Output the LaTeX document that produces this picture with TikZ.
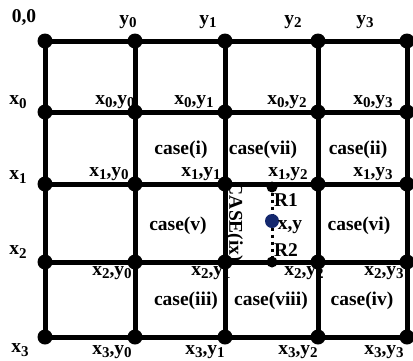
\documentclass[tikz,border=0pt]{standalone}
\usepackage{fontspec}
\setmainfont{Liberation Serif}
\begin{document}
\begin{tikzpicture}[x=1pt,y=-1pt,
  lbl/.style={font=\fontsize{19.5}{21}\selectfont\bfseries, inner sep=0pt},
  grid/.style={line width=5pt},
  knot/.style={circle, fill=black, minimum size=15pt, inner sep=0pt},
  probe/.style={circle, fill=black, minimum size=11pt, inner sep=0pt}]
\useasboundingbox (0,0) rectangle (413,360);
\newcommand\sbs[1]{\raisebox{-3.5pt}{\fontsize{15}{15}\selectfont #1}}
\newcommand\xy[2]{x\sbs{#1},y\sbs{#2}}
% axis labels
\node[lbl] (o)  at (24,18)  {0,0};
\node[lbl] (ty0) at (128,22) {y\sbs{0}};
\node[lbl] (ty1) at (208,22) {y\sbs{1}};
\node[lbl] (ty2) at (293,22) {y\sbs{2}};
\node[lbl] (ty3) at (365,22) {y\sbs{3}};
\node[lbl] (lx0) at (18,102) {x\sbs{0}};
\node[lbl] (lx1) at (18,177) {x\sbs{1}};
\node[lbl] (lx2) at (18,252) {x\sbs{2}};
\node[lbl] (lx3) at (20,350) {x\sbs{3}};
% point labels
\node[lbl] (p00) at (115,102) {\xy00};
\node[lbl] (p01) at (194,102) {\xy01};
\node[lbl] (p02) at (287,102) {\xy02};
\node[lbl] (p03) at (373,102) {\xy03};
\node[lbl] (p10) at (109,174) {\xy10};
\node[lbl] (p11) at (201,174) {\xy11};
\node[lbl] (p12) at (288,174) {\xy12};
\node[lbl] (p13) at (373,174) {\xy13};
\node[lbl] (p20) at (112,273) {\xy20};
\node[lbl] (p21) at (211,273) {\xy21};
\node[lbl] (p22) at (304,273) {\xy22};
\node[lbl] (p23) at (384,273) {\xy23};
\node[lbl] (p30) at (112,352) {\xy30};
\node[lbl] (p31) at (205,352) {\xy31};
\node[lbl] (p32) at (298,352) {\xy32};
\node[lbl] (p33) at (384,352) {\xy33};
% case labels
\node[lbl] (ci)    at (181,150) {case(i)};
\node[lbl] (cvii)  at (263,150) {case(vii)};
\node[lbl] (cii)   at (358,150) {case(ii)};
\node[lbl] (cv)    at (178,226) {case(v)};
\node[lbl] (cvi)   at (359,226) {case(vi)};
\node[lbl] (ciii)  at (186,301) {case(iii)};
\node[lbl] (cviii) at (271,301) {case(viii)};
\node[lbl] (civ)   at (362,301) {case(iv)};
\node[lbl, rotate=-90] (cix) at (234,222) {CASE(ix)};
% grid
\foreach \r/\yy in {0/41,1/112,2/184,3/262,4/337}{
  \foreach \c/\xx in {0/45,1/135,2/225,3/318,4/407}{
    \coordinate (g\r\c) at (\xx,\yy);
  }
}
\foreach \r in {0,...,4}{\draw[grid] (g\r0) -- (g\r4);}
\foreach \c in {0,...,4}{\draw[grid] (g0\c) -- (g4\c);}
\foreach \r in {0,...,4}{\foreach \c in {0,...,4}{\node[knot] at (g\r\c) {};}}
% interpolation point between two grid rows
\node[probe] (r1) at (272,187) {};
\node[probe] (r2) at (272,262) {};
\draw[line width=3pt, dash pattern=on 3pt off 4pt] (r1) -- (r2);
\node[circle, fill={rgb,255:red,20;green,40;blue,110}, minimum size=14pt, inner sep=0pt] (pt) at (272,221) {};
\node[lbl] (R1) at (286,200) {R1};
\node[lbl] (xy) at (290,227) {x,y};
\node[lbl] (R2) at (286,250) {R2};
\end{tikzpicture}
\end{document}
